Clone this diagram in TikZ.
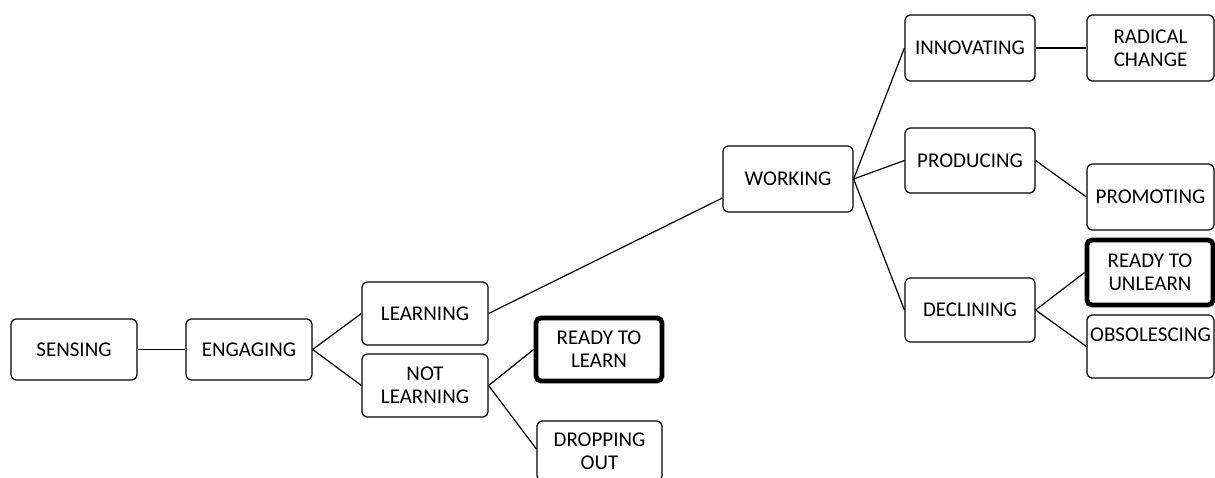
\documentclass[tikz,border=0pt]{standalone}
\usepackage{fontspec}
\setmainfont{Carlito}
\usetikzlibrary{calc}
\begin{document}
\begin{tikzpicture}[x=1pt,y=-1pt,
  box/.style={draw, rounded corners=5pt, line width=1.2pt, align=center,
    font=\fontsize{21}{23}\selectfont, inner sep=0pt},
  hot/.style={box, line width=4.8pt},
  link/.style={line width=1.2pt}]
\useasboundingbox (0,0) rectangle (1215,477);
% nodes
\node[box, minimum width=126, minimum height=61] (sens) at (74,349.5) {SENSING};
\node[box, minimum width=126, minimum height=61] (eng) at (249,349.5) {ENGAGING};
\node[box, minimum width=126, minimum height=63] (learn) at (425,313.5) {LEARNING};
\node[box, minimum width=126, minimum height=63] (notl) at (425,385.5) {NOT\\LEARNING};
\node[hot, minimum width=126, minimum height=63] (rtl) at (599,349.5) {READY TO\\LEARN};
\node[box, minimum width=125, minimum height=60] (drop) at (599.5,451) {DROPPING\\OUT};
\node[box, minimum width=130, minimum height=66] (work) at (788,179) {WORKING};
\node[box, minimum width=130, minimum height=66] (innov) at (970,48) {INNOVATING};
\node[box, minimum width=127, minimum height=66] (rad) at (1150.5,48) {RADICAL\\CHANGE};
\node[box, minimum width=130, minimum height=65] (prod) at (970,160.5) {PRODUCING};
\node[box, minimum width=127, minimum height=66] (prom) at (1150.5,197) {PROMOTING};
\node[box, minimum width=130, minimum height=64] (decl) at (970,310) {DECLINING};
\node[hot, minimum width=126, minimum height=65] (rtu) at (1150,272.5) {READY TO\\UNLEARN};
\node[box, minimum width=127, minimum height=63] (obs) at (1150.5,346.5) {OBSOLESCING\\\mbox{}};
% connectors
\draw[link] (sens.east) -- (eng.west);
\draw[link] (eng.east) -- (learn.west);
\draw[link] (eng.east) -- (notl.west);
\draw[link] (notl.east) -- (rtl.west);
\draw[link] (notl.east) -- ($(drop.west)+(0,-2)$);
\draw[link] (learn.east) -- ($(work.west)+(0,19)$);
\draw[link] (work.east) -- (innov.west);
\draw[link] (work.east) -- (prod.west);
\draw[link] (work.east) -- (decl.west);
\draw[link] (innov.east) -- (rad.west);
\draw[link] (prod.east) -- (prom.west);
\draw[link] (decl.east) -- (rtu.west);
\draw[link] (decl.east) -- (obs.west);
\end{tikzpicture}
\end{document}
